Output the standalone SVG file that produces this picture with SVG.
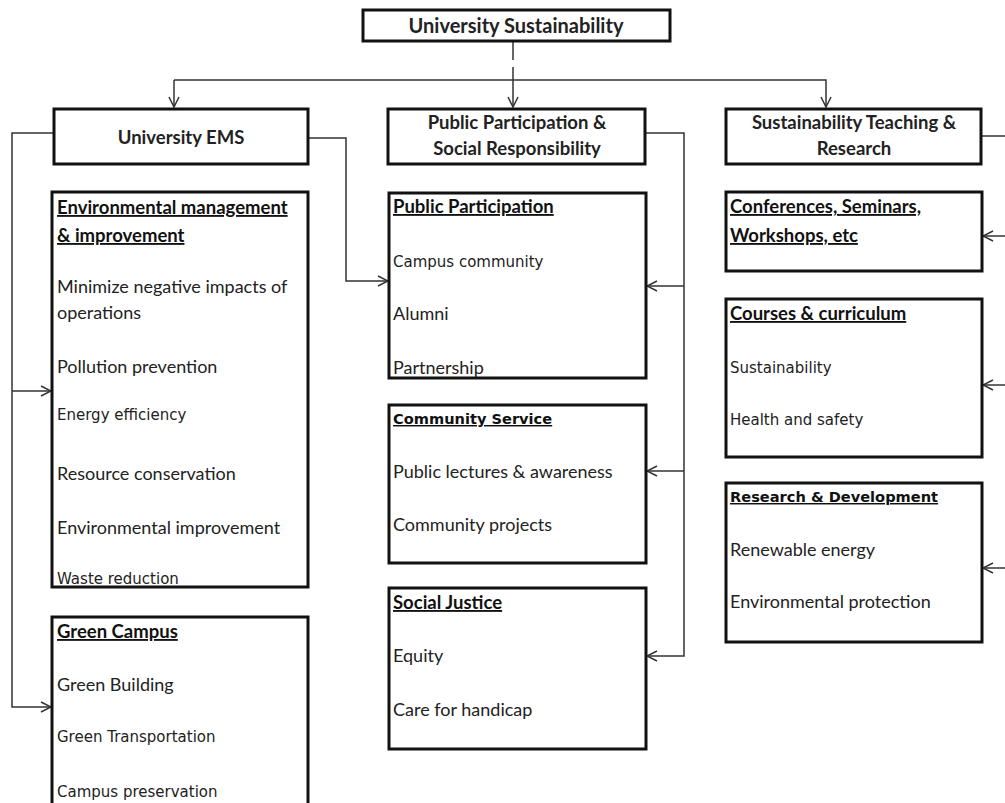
<svg xmlns="http://www.w3.org/2000/svg" width="1005" height="803" viewBox="0 0 1005 803">
<style>
.box{fill:#fff;stroke:#111;stroke-width:3}
.hd{font-family:Lato,"Liberation Sans",sans-serif;font-weight:bold;font-size:18.5px;fill:#222;text-anchor:middle}
.t{font-family:Lato,"Liberation Sans",sans-serif;font-size:18px;fill:#222}
.tb{font-family:Lato,"Liberation Sans",sans-serif;font-size:18.5px;font-weight:bold;fill:#111;text-decoration:underline}
.v{font-family:"DejaVu Sans",sans-serif;font-size:15px;fill:#222}
.vb{font-family:"DejaVu Sans",sans-serif;font-size:14.6px;font-weight:bold;fill:#111;text-decoration:underline}
.c{fill:none;stroke:#333;stroke-width:1.5}
</style>
<defs>
<marker id="ar" markerUnits="userSpaceOnUse" markerWidth="12" markerHeight="12" viewBox="0 0 12 12" refX="11" refY="6" orient="auto">
<path d="M1,1 L11,6 L1,11" fill="none" stroke="#333" stroke-width="1.5"/>
</marker>
</defs>
<g id="connectors">
<path class="c" d="M513,41 V60"/>
<path class="c" d="M513,67 V107" marker-end="url(#ar)"/>
<path class="c" d="M174,80 H826 V107" marker-end="url(#ar)"/>
<path class="c" d="M174,80 V107" marker-end="url(#ar)"/>
<path class="c" d="M54,133 H12 V707 H51" marker-end="url(#ar)"/>
<path class="c" d="M12,391 H51" marker-end="url(#ar)"/>
<path class="c" d="M308,138 H346 V281 H388" marker-end="url(#ar)"/>
<path class="c" d="M645,133 H684 V656 H647" marker-end="url(#ar)"/>
<path class="c" d="M684,286 H647" marker-end="url(#ar)"/>
<path class="c" d="M684,471 H647" marker-end="url(#ar)"/>
<path class="c" d="M981,136 H1006"/>
<path class="c" d="M1006,236 H983" marker-end="url(#ar)"/>
<path class="c" d="M1006,385 H983" marker-end="url(#ar)"/>
<path class="c" d="M1006,568 H983" marker-end="url(#ar)"/>
</g>
<g id="root">
<rect class="box" x="363" y="10" width="307" height="31"/>
<text class="hd" x="516" y="33" style="font-size:20px">University Sustainability</text>
</g>
<g id="ems">
<rect class="box" x="54" y="109" width="254" height="55"/>
<text class="hd" x="181" y="144">University EMS</text>
</g>
<g id="pp">
<rect class="box" x="388" y="109" width="257" height="55"/>
<text class="hd" x="517" y="129">Public Participation &amp;</text>
<text class="hd" x="517" y="155">Social Responsibility</text>
</g>
<g id="str">
<rect class="box" x="726" y="109" width="255" height="55"/>
<text class="hd" x="854" y="129">Sustainability Teaching &amp;</text>
<text class="hd" x="854" y="155">Research</text>
</g>
<g id="envmgmt">
<rect class="box" x="52" y="192" width="256" height="395"/>
<text class="tb" x="57" y="214">Environmental management </text>
<text class="tb" x="57" y="242">&amp; improvement</text>
<text class="t" x="57" y="293">Minimize negative impacts of</text>
<text class="t" x="57" y="319">operations</text>
<text class="t" x="57" y="373">Pollution prevention</text>
<text class="v" x="57" y="420">Energy efficiency</text>
<text class="t" x="57" y="480">Resource conservation</text>
<text class="t" x="57" y="534">Environmental improvement</text>
<text class="v" x="57" y="584">Waste reduction</text>
</g>
<g id="greencampus">
<rect class="box" x="52" y="617" width="256" height="195"/>
<text class="tb" x="57" y="638">Green Campus</text>
<text class="t" x="57" y="691">Green Building</text>
<text class="v" x="57" y="742">Green Transportation</text>
<text class="v" x="57" y="797">Campus preservation</text>
</g>
<g id="publicparticipation">
<rect class="box" x="389" y="193" width="257" height="185"/>
<text class="tb" x="393" y="213">Public Participation</text>
<text class="v" x="393" y="267">Campus community</text>
<text class="t" x="393" y="320">Alumni</text>
<text class="t" x="393" y="374">Partnership</text>
</g>
<g id="communityservice">
<rect class="box" x="389" y="405" width="257" height="158"/>
<text class="vb" x="393" y="424">Community Service</text>
<text class="t" x="393" y="478">Public lectures &amp; awareness</text>
<text class="t" x="393" y="531">Community projects</text>
</g>
<g id="socialjustice">
<rect class="box" x="389" y="588" width="257" height="161"/>
<text class="tb" x="393" y="609">Social Justice</text>
<text class="t" x="393" y="662">Equity</text>
<text class="t" x="393" y="716">Care for handicap</text>
</g>
<g id="conferences">
<rect class="box" x="726" y="192" width="256" height="79"/>
<text class="tb" x="730" y="213">Conferences, Seminars,</text>
<text class="tb" x="730" y="242">Workshops, etc</text>
</g>
<g id="courses">
<rect class="box" x="726" y="299" width="256" height="158"/>
<text class="tb" x="730" y="320">Courses &amp; curriculum</text>
<text class="v" x="730" y="373">Sustainability</text>
<text class="v" x="730" y="425">Health and safety</text>
</g>
<g id="research">
<rect class="box" x="726" y="483" width="256" height="159"/>
<text class="vb" x="730" y="502">Research &amp; Development</text>
<text class="t" x="730" y="556">Renewable energy</text>
<text class="t" x="730" y="608">Environmental protection</text>
</g>
</svg>
